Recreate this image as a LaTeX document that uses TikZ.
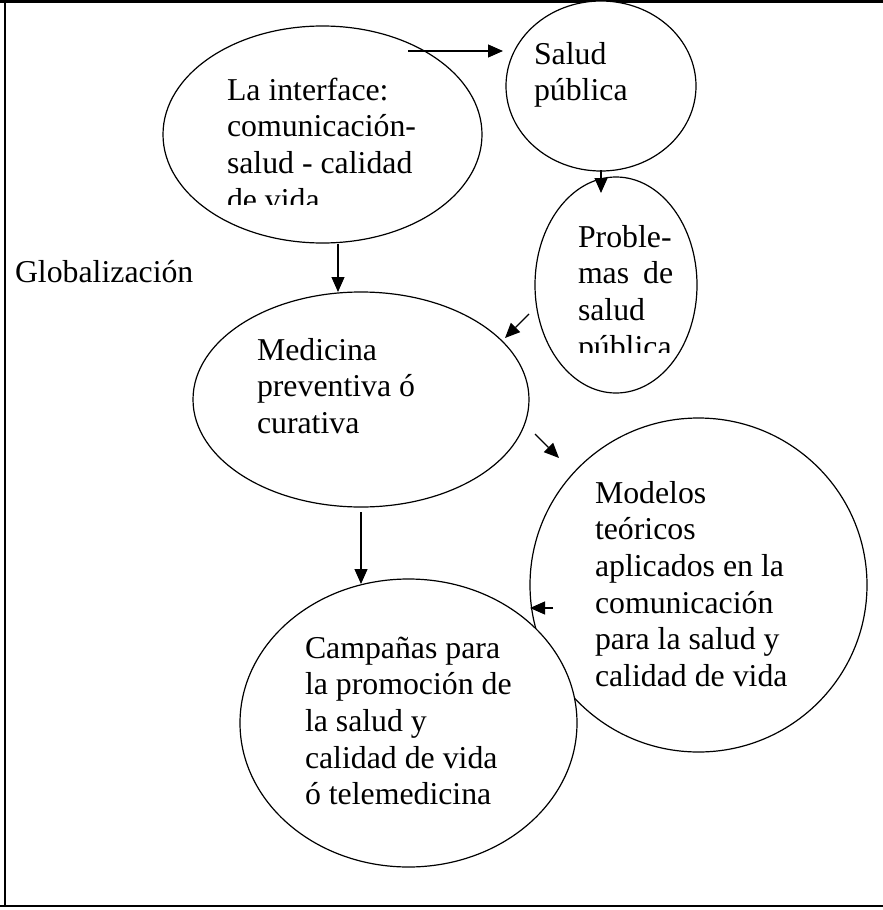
\documentclass[tikz,border=0pt]{standalone}
\usepackage{fontspec}
\setmainfont{Liberation Serif}
\usetikzlibrary{shapes.geometric,arrows.meta}
\newcommand{\bubtext}[1]{\parbox[t]{330pt}{\raggedright #1}}
\begin{document}
\begin{tikzpicture}[x=1pt,y=-1pt,
  bubble/.style={draw, ellipse, line width=1.2pt, inner sep=0pt, outer sep=0pt, fill=white},
  txt/.style={anchor=base west, inner sep=0pt, outer sep=0pt, font=\fontsize{31.8}{36.7}\selectfont},
  arr/.style={line width=1.2pt, -{Triangle[length=15pt,width=13pt]}},
  rule/.style={line width=2.4pt}]
\useasboundingbox (0,0) rectangle (883,910);
% table frame
\coordinate (tl) at (0,1.3);
\coordinate (tr) at (883,1.3);
\coordinate (lt) at (5.3,0);
\coordinate (lb) at (5.3,907);
\coordinate (bl) at (0,906);
\coordinate (br) at (883,906);
\draw[rule] (tl) -- (tr);
\draw[line width=2pt] (lt) -- (lb);
\draw[rule] (bl) -- (br);

% bubbles
\node[bubble, minimum width=319pt, minimum height=217pt] (inter) at (322.5,134.5) {};
\node[bubble, minimum width=190pt, minimum height=170pt] (salud) at (601,86) {};
\node[bubble, minimum width=162pt, minimum height=216pt] (probl) at (616,285) {};
\node[bubble, minimum width=336pt, minimum height=215pt] (medic) at (361,399.5) {};
\node[bubble, minimum width=337pt, minimum height=334pt] (model) at (698.5,585) {};
\node[bubble, minimum width=337pt, minimum height=288pt] (campa) at (408.5,723) {};

% texts
\begin{scope}
\clip (150,20) rectangle (480,204);
\node[txt] (tinter) at (227,100) {\bubtext{La interface:\\comunicación-\\salud - calidad\\de vida}};
\end{scope}
\node[txt] (tsalud) at (534,64) {\bubtext{Salud\\pública}};
\begin{scope}
\clip (540,200) rectangle (700,352.5);
\node[txt] (tprobl) at (578,247) {\bubtext{Proble-\\mas\hspace{14pt}de\\salud\\pública}};
\end{scope}
\node[txt] (tmedic) at (257,360) {\bubtext{Medicina\\preventiva ó\\curativa}};
\node[txt] (tmodel) at (595,503) {\bubtext{Modelos\\teóricos\\aplicados en la\\comunicación\\para la salud y\\calidad de vida}};
\node[txt] (tcampa) at (305,658) {\bubtext{Campañas para\\la promoción de\\la salud y\\calidad de vida\\ó telemedicina}};
\node[txt] (glob) at (15,282) {Globalización};

% connectors
\coordinate (a1s) at (408,51);   \coordinate (a1e) at (503,51);
\coordinate (a2s) at (601,170);  \coordinate (a2e) at (601,193);
\coordinate (a3s) at (529,314);  \coordinate (a3e) at (505,338);
\coordinate (a4s) at (338,244);  \coordinate (a4e) at (338,292);
\coordinate (a5s) at (535,434);  \coordinate (a5e) at (559,458);
\coordinate (a6s) at (361,512);  \coordinate (a6e) at (361,584);
\coordinate (a7s) at (553,608);  \coordinate (a7e) at (530,608);
\draw[arr] (a1s) -- (a1e);
\draw[arr] (a2s) -- (a2e);
\draw[arr] (a3s) -- (a3e);
\draw[arr] (a4s) -- (a4e);
\draw[arr] (a5s) -- (a5e);
\draw[arr] (a6s) -- (a6e);
\draw[arr] (a7s) -- (a7e);
\end{tikzpicture}
\end{document}
